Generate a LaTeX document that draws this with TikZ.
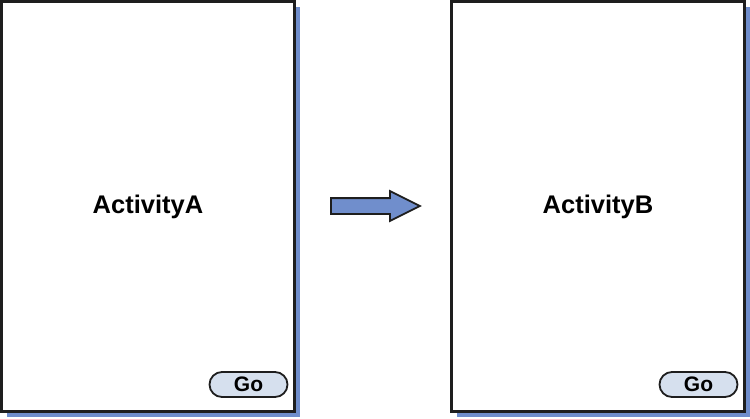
\documentclass[tikz,border=0pt]{standalone}
\usepackage{fontspec}
\setmainfont{Liberation Sans}
\usetikzlibrary{positioning,shapes.misc,shapes.arrows,shadows}
\definecolor{shadeblue}{RGB}{112,142,204}
\definecolor{btnfill}{RGB}{214,224,238}
\definecolor{edgegray}{RGB}{30,30,30}
\tikzset{
  screen/.style={draw=edgegray,line width=2.5pt,fill=white,minimum width=293pt,minimum height=410pt,
    inner sep=0pt,font=\fontsize{25.5}{30}\selectfont\bfseries,
    general shadow={fill=shadeblue,shadow xshift=5pt,shadow yshift=-5pt}},
  gobtn/.style={rounded rectangle,draw=edgegray,line width=1.8pt,fill=btnfill,minimum width=78pt,
    minimum height=25pt,inner sep=0pt,font=\fontsize{21}{24}\selectfont\bfseries},
  flowarrow/.style={single arrow,draw=edgegray,line width=1.8pt,fill=shadeblue,minimum height=89pt,
    inner sep=7pt,single arrow head extend=7pt,single arrow tip angle=53}
}
\begin{document}
\begin{tikzpicture}[x=1pt,y=-1pt]
  \useasboundingbox (0,0) rectangle (750,418);
  \node[screen] (actA) at (148,206.5) {ActivityA};
  \node[screen] (actB) at (598,206.5) {ActivityB};
  \node[gobtn] (goA) at (248.5,384.5) {Go};
  \node[gobtn] (goB) at (698.5,384.5) {Go};
  % transition between the two activities
  \node[flowarrow,anchor=tail] (trans) at (330,206) {};
\end{tikzpicture}
\end{document}
